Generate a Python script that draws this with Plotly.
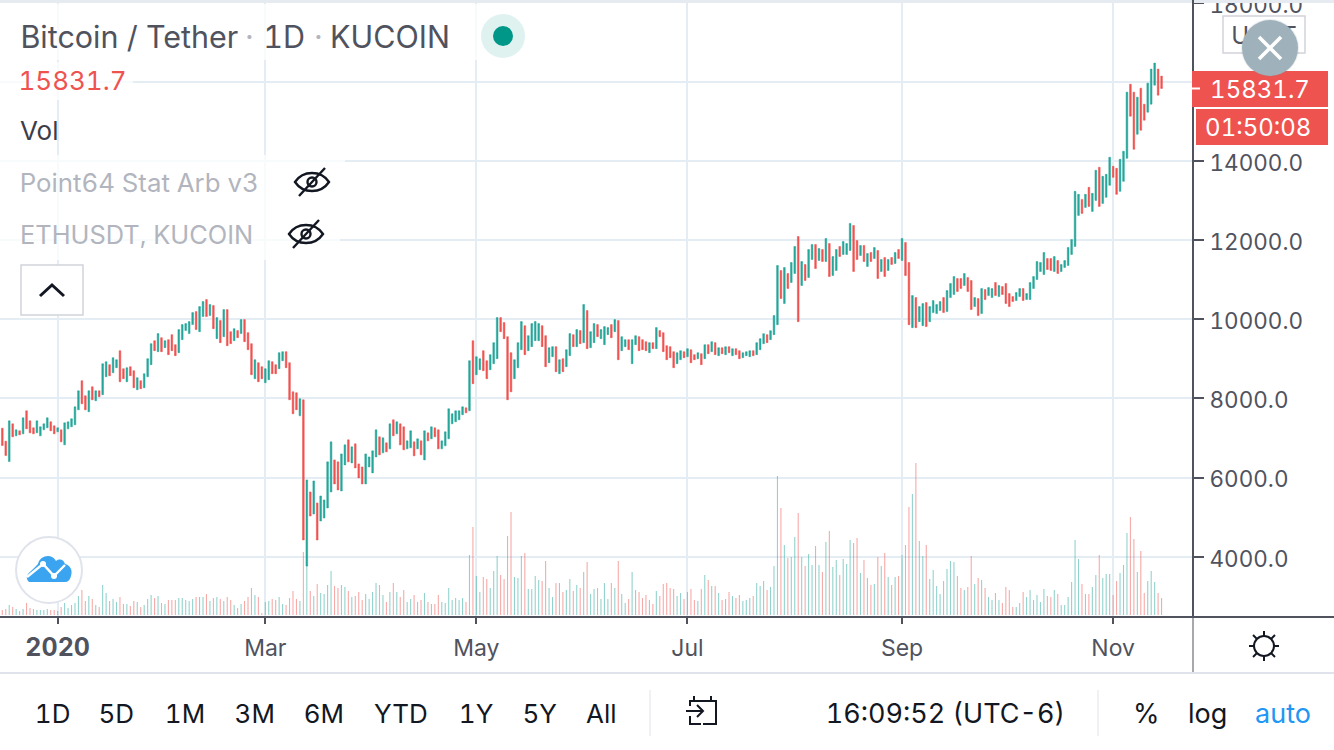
import pandas as pd
import plotly.graph_objects as go

W, H = 1334, 750

# daily bars, R = down day, G = up day
direction = (
    "RRGRGRGRRR" "GGGGRRGRGG" "GGGRRGRGRG" "GRGGRRGRRG" "RGGGRGRGRR"
    "RGGGGGRGGR" "GRGRGRRGRG" "RRRGRRGGRR" "GGRRRRGRGR" "GRGGGGRR"
    "GGRGRRRGGG" "GRGRGRGRRG" "GRGRGRGRRG" "GGGGGGRGRG" "GRRGGGRRRR"
    "GGGRGGGGRR" "GGRGRGGRGR" "GRGGRGGGRG" "RGGRGGRRRG" "RGRRRR"
    "RGGRGRRGRG" "RGRGRGRGRR" "GGGRGGGRGG" "GRGRGGRGRG" "GRGRGRGGRG"
    "GGRRGRGRGR" "GRGRGRGRRG" "RGGRGGGGRG" "GGRRGRRGRGRG"
    "GRGRRRRGGR" "GGGGGGRRGR" "GGGGGGRGRG" "GRGGGRRGGG" "RRGRRGGGRR"
)
bar_high = [
    7248, 6919, 7434, 7358, 7206, 7181, 7510, 7687, 7434, 7257,
    7434, 7282, 7358, 7510, 7409, 7307, 7257, 7206, 7383, 7409,
    7485, 7788, 8193, 8447, 8067, 8193, 8295, 8193, 8193, 8877,
    8928, 8852, 9029, 8978, 9206, 8751, 8776, 8801, 8700, 8523,
    8447, 8624, 9004, 9384, 9459, 9637, 9535, 9459, 9485, 9611,
    9358, 9738, 9865, 9890, 9941, 10168, 10194, 10320, 10447, 10498,
    10371, 10346, 10042, 9966, 10244, 10244, 9687, 9763, 9713, 9991,
    9991, 9662, 9384, 8978, 8902, 8801, 8751, 8953, 8928, 8852,
    9156, 9181, 9181, 8902, 8168, 8143, 7991, 7966, 5940, 5636,
    5915, 5358, 5535, 5434, 6396, 6902, 6446, 6396,
    6598, 6826, 6953, 6776, 6852, 6345, 6269, 6598, 6522, 6674,
    7206, 7029, 7003, 6877, 7358, 7459, 7409, 7358, 7282, 6927,
    7181, 6902, 6978, 6927, 7181, 7130, 7282, 7257, 7206, 6927,
    7155, 7738, 7611, 7687, 7687, 7788, 7763, 8953, 9459, 9054,
    9004, 9206, 8953, 9105, 9409, 10042, 10042, 9915, 9561, 9156,
    8978, 9409, 9941, 9839, 9586, 9890, 9941, 9890, 9839, 9586,
    9282, 9308, 9308, 8978, 9004, 9232, 9637, 9611, 9738, 9713,
    10371, 10219, 9687, 9890, 9865, 9738, 9814, 9789, 9865, 9991,
    9966, 9561, 9485, 9485, 9485, 9586, 9561, 9485, 9434, 9409,
    9409, 9789, 9713, 9662, 9333, 9308,
    9181, 9155, 9206, 9181, 9257, 9231, 9105, 9155, 9130, 9358,
    9358, 9434, 9409, 9282, 9282, 9307, 9307, 9257, 9257, 9206,
    9155, 9181, 9206, 9206, 9409, 9510, 9636, 9611, 9712, 10092,
    11358, 11232, 11308, 11156, 11434, 11839, 12092, 11459, 11384, 11763,
    11890, 11890, 11789, 11763, 12042, 11915, 11586, 11763, 11839, 11966,
    11915, 12422, 12371, 11991, 11865, 11865, 11662, 11687, 11814, 11738,
    11510, 11561, 11510, 11561, 11687, 11763, 12042, 11941, 11434, 10599,
    10548, 10320, 10396, 10421, 10320, 10472, 10371, 10447, 10548, 10725,
    10902, 11080, 11029, 11029, 11156, 11054, 10978, 10548, 10523, 10776, 10751, 10801,
    10776, 10928, 10852, 10826, 10902, 10649, 10573, 10675, 10776, 10776,
    10649, 10928, 11080, 11459, 11434, 11687, 11535, 11535, 11586, 11485,
    11384, 11485, 11814, 12017, 13232, 13156, 13029, 13156, 13333, 13181,
    13764, 13840, 13612, 13662, 14093, 13865, 13814, 14042, 14245, 15739,
    15941, 15739, 15612, 15840, 15435, 15966, 16321, 16473, 16321, 16144,
]
bar_low = [
    6809, 6556, 6404, 7029, 7054, 7079, 7105, 7231, 7130, 7105,
    7130, 7054, 7206, 7257, 7181, 7105, 7155, 6902, 6826, 7231,
    7282, 7333, 7712, 7864, 7712, 7662, 7966, 7940, 8042, 8092,
    8548, 8573, 8649, 8776, 8421, 8497, 8421, 8573, 8269, 8219,
    8244, 8269, 8548, 8852, 9206, 9181, 9181, 9282, 9105, 9206,
    9080, 9156, 9485, 9713, 9637, 9865, 9738, 9687, 10067, 10067,
    10092, 9763, 9510, 9409, 9561, 9333, 9384, 9459, 9535, 9637,
    9434, 9232, 8599, 8497, 8421, 8497, 8396, 8472, 8624, 8624,
    8751, 8953, 8776, 7966, 7611, 7712, 7560, 4421, 3762, 5028,
    5079, 4421, 4902, 4978, 5231, 5636, 5839, 5687,
    5661, 6320, 6396, 6370, 6244, 5991, 5839, 5839, 6269, 6117,
    6522, 6573, 6624, 6649, 6725, 7054, 7105, 6826, 6700, 6725,
    6750, 6548, 6725, 6573, 6446, 6927, 6978, 7029, 6725, 6725,
    6801, 6978, 7358, 7409, 7459, 7586, 7636, 7687, 8371, 8599,
    8725, 8700, 8497, 8725, 8877, 9004, 9687, 9510, 7966, 8168,
    8497, 8776, 9232, 9105, 9206, 9308, 9459, 9459, 9308, 8801,
    8902, 9054, 8675, 8624, 8675, 8801, 9080, 9308, 9308, 9384,
    9409, 9257, 9282, 9409, 9561, 9510, 9358, 9611, 9535, 9687,
    8978, 9206, 9308, 9232, 8877, 9358, 9206, 9232, 9206, 9156,
    9257, 9257, 9561, 9181, 8978, 9029,
    8776, 8877, 8978, 9029, 9054, 8902, 8978, 9003, 8852, 9003,
    9130, 9181, 9105, 9079, 9130, 9105, 9155, 9079, 9105, 9003,
    9029, 9079, 9054, 9079, 9105, 9231, 9383, 9409, 9485, 9611,
    9864, 10523, 10396, 10776, 10928, 11156, 9940, 10852, 10978, 11054,
    11510, 11282, 11485, 11459, 11459, 11080, 11105, 11232, 11586, 11637,
    11637, 11738, 11206, 11510, 11611, 11459, 11333, 11459, 11535, 11029,
    11206, 11080, 11232, 11384, 11409, 11535, 11485, 11105, 9864, 9788,
    9788, 9940, 9839, 9814, 9940, 10168, 10143, 10219, 10168, 10193,
    10548, 10624, 10700, 10776, 10852, 10700, 10244, 10320, 10092, 10143, 10497, 10599,
    10548, 10599, 10573, 10624, 10396, 10320, 10447, 10472, 10573, 10472,
    10497, 10497, 10776, 11004, 11206, 11130, 11257, 11232, 11206, 11156,
    11206, 11308, 11358, 11637, 11839, 12624, 12675, 12827, 12852, 12725,
    13004, 12852, 12928, 13080, 13384, 13586, 13156, 13232, 13485, 14067,
    15131, 14295, 14675, 14776, 15030, 15232, 15435, 15916, 15663, 15831.7,
]
# no volume scale on the chart, so these are relative heights
volume = [
    15, 18, 30, 24, 18, 12, 18, 36, 21, 18, 15, 15, 15, 18, 15, 15, 12, 24, 36, 21,
    30, 36, 57, 75, 42, 57, 48, 30, 24, 90, 66, 42, 48, 39, 54, 33, 33, 27, 42, 39,
    24, 30, 48, 60, 51, 57, 36, 33, 45, 45, 45, 51, 51, 45, 42, 48, 54, 54, 54, 63,
    42, 51, 54, 48, 42, 54, 45, 30, 21, 33, 42, 54, 81, 60, 54, 6, 39, 42, 48, 45,
    54, 33, 30, 51, 72, 48, 42, 189, 150, 72, 57, 93, 66, 63, 90, 132, 87, 81,
    90, 84, 72, 54, 57, 69, 45, 63, 48, 69, 96, 90, 60, 39, 69, 96, 69, 54, 75, 39,
    48, 60, 39, 45, 66, 39, 33, 33, 60, 39, 36, 81, 45, 51, 45, 51, 39, 180, 264, 117,
    69, 114, 108, 81, 132, 177, 120, 108, 237, 309, 114, 111, 177, 186, 78, 78, 117, 105, 102, 162,
    81, 54, 96, 96, 69, 75, 108, 72, 90, 81, 129, 159, 63, 78, 81, 48, 96, 48, 96, 81,
    162, 63, 36, 48, 129, 75, 69, 51, 60, 45, 33, 72, 57, 93, 96, 81,
    78, 57, 66, 48, 69, 78, 45, 42, 78, 120, 105, 87, 87, 66, 45, 48, 69, 57, 51, 60,
    42, 45, 51, 57, 96, 87, 102, 75, 84, 147, 417, 321, 210, 171, 174, 234, 306, 174, 147, 183,
    150, 207, 150, 129, 219, 252, 144, 165, 120, 168, 153, 225, 216, 231, 126, 165, 111, 90, 93, 174,
    147, 186, 114, 90, 114, 117, 180, 210, 324, 363, 456, 222, 177, 210, 108, 135, 87, 63, 102, 138,
    162, 159, 117, 81, 75, 84, 177, 93, 111, 105, 81, 54,
    45, 66, 45, 36, 84, 75, 24, 24, 36, 69, 54, 75, 45, 60, 39, 78, 57, 54, 75, 63,
    30, 30, 54, 99, 225, 168, 93, 63, 63, 84, 120, 180, 111, 123, 123, 60, 102, 126, 150, 246,
    294, 228, 129, 192, 66, 102, 132, 99, 66, 51,
]
price_ticks = [4000, 6000, 8000, 10000, 12000, 14000, 16000, 18000]
# the 16000 label sits behind the last price tag, so it gets no text
price_labels = ["4000.0", "6000.0", "8000.0", "10000.0", "12000.0", "14000.0", "", "18000.0"]
month_ticks = ["2020-01-01", "2020-03-01", "2020-05-01", "2020-07-01", "2020-09-01", "2020-11-01"]
month_labels = ['<span style="font-size:25px"><b>2020</b></span>', "Mar", "May", "Jul", "Sep", "Nov"]
range_buttons = ["1D", "5D", "1M", "3M", "6M", "YTD", "1Y", "5Y", "All"]
range_button_x = [52, 116, 185, 255, 324, 401, 476, 539, 601]

GREEN = "#26a69a"
RED = "#ef5350"
TEXT = "#50535e"
DARK = "#131722"
FAINT = "#b2b5be"
GRID = "#e4edf4"
FONT = "Inter"

assert len(direction) == len(bar_high) == len(bar_low) == len(volume)

dates = pd.date_range("2019-12-16", periods=len(bar_high), freq="D")
bar_open = [l if d == "G" else h for d, h, l in zip(direction, bar_high, bar_low)]
bar_close = [h if d == "G" else l for d, h, l in zip(direction, bar_high, bar_low)]
volume_colors = ["rgba(38,166,154,0.5)" if d == "G" else "rgba(239,83,80,0.5)" for d in direction]


def px(x):
    return x / W


def py(y):
    return 1 - y / H


def box(x0, y0, x1, y1, **kw):
    kw.setdefault("line_width", 0)
    return dict(type="rect", xref="paper", yref="paper", x0=px(x0), x1=px(x1), y0=py(y0), y1=py(y1), **kw)


def seg(x0, y0, x1, y1, color, width):
    return dict(type="line", xref="paper", yref="paper", x0=px(x0), x1=px(x1), y0=py(y0), y1=py(y1),
                line=dict(color=color, width=width))


def dot(x, y, r, **kw):
    kw.setdefault("line_width", 0)
    return dict(type="circle", xref="paper", yref="paper", x0=px(x - r), x1=px(x + r), y0=py(y - r), y1=py(y + r), **kw)


def curve(d, **kw):
    # d is an svg path in page pixels
    out = []
    is_x = True
    for tok in d.split():
        if tok.isalpha():
            out.append(tok)
            is_x = True
        else:
            out.append(str(px(float(tok))) if is_x else str(py(float(tok))))
            is_x = not is_x
    kw.setdefault("line_width", 0)
    return dict(type="path", xref="paper", yref="paper", path=" ".join(out), **kw)


def label(text, x, y, size=26, color=TEXT, anchor="left"):
    # annotations sit about 3px right of their anchor
    if anchor == "left":
        x -= 3
    return dict(text=text, xref="paper", yref="paper", x=px(x), y=py(y), xanchor=anchor, yanchor="middle",
                showarrow=False, font=dict(family=FONT, size=size, color=color))


def eye(x, y):
    line = dict(line_color=DARK, line_width=2.4)
    return [
        curve(f"M {x - 17} {y} C {x - 9} {y - 12} {x + 9} {y - 12} {x + 17} {y} C {x + 9} {y + 12} {x - 9} {y + 12} {x - 17} {y} Z", **line),
        dot(x, y, 4.5, **line),
        seg(x - 13, y + 14, x + 13, y - 14, DARK, 2.4),
    ]


fig = go.Figure()
fig.add_trace(go.Candlestick(
    x=dates, open=bar_open, high=bar_high, low=bar_low, close=bar_close,
    increasing=dict(line=dict(color=GREEN, width=0.5), fillcolor=GREEN),
    decreasing=dict(line=dict(color=RED, width=0.5), fillcolor=RED),
    hoverinfo="skip", showlegend=False,
))
fig.add_trace(go.Bar(
    x=dates, y=volume, yaxis="y2", width=27000000,
    marker=dict(color=volume_colors, line_width=0),
    hoverinfo="skip", showlegend=False,
))

shapes = [
    # faded panel behind the legend
    box(0, 4, 530, 60, fillcolor="rgba(255,255,255,0.75)"),
    box(0, 62, 133, 100, fillcolor="rgba(255,255,255,0.75)"),
    box(0, 155, 345, 208, fillcolor="rgba(255,255,255,0.75)"),
    box(0, 208, 340, 260, fillcolor="rgba(255,255,255,0.75)"),
    # frame
    box(0, 0, W, 3, fillcolor="#e6ebf1"),
    seg(0, 617, W, 617, TEXT, 2),
    seg(1193, 0, 1193, 617, TEXT, 2),
    seg(1193, 617, 1193, 672, TEXT, 1),
    box(0, 672, W, 674, fillcolor="#e0e3eb"),
    seg(650, 690, 650, 736, "#e0e3eb", 1),
    seg(1098, 690, 1098, 736, "#e0e3eb", 1),
    # status dot
    dot(503, 36, 22, fillcolor="#e0f2f0"),
    dot(503, 36, 10, fillcolor="#009688"),
    # collapse button
    box(21, 265, 83, 315, fillcolor="white", line_color="#d1d4dc", line_width=1.5),
    curve("M 40 296 L 52 285 L 64 296", line_color=DARK, line_width=3),
    # logo
    dot(49, 570, 33, fillcolor="white", line_color="#e0e3eb", line_width=2),
    curve("M 29 582 C 25 578 27 574 31 571 C 34 568 36 566 38 564 C 40 555 52 553 56 561 "
          "C 60 558 64 560 65 564 C 70 565 73 570 71 576 C 70 580 68 582 65 582 Z", fillcolor="#3ba4f0"),
    curve("M 27 577 L 43 564 L 54 576 L 65 565", line_color="white", line_width=2.4),
    dot(43, 564, 3, fillcolor="white"),
    dot(54, 576, 3, fillcolor="white"),
    # last price tags
    box(1192, 71, 1328, 107, fillcolor=RED),
    box(1196, 109, 1328, 145, fillcolor=RED),
    seg(1192, 88.5, 1200, 88.5, "white", 2),
    # currency button with the close button sitting on it
    box(1223, 16, 1305, 53, fillcolor="white", line_color="#d1d4dc", line_width=1.5,
        label=dict(text="USDT", font=dict(family=FONT, size=24, color=TEXT), textposition="middle center")),
    dot(1270, 48, 29, fillcolor="rgba(120,140,150,0.15)"),
    dot(1270, 48, 28, fillcolor="#9fb2bc"),
    seg(1259, 37, 1281, 59, "white", 3.5),
    seg(1259, 59, 1281, 37, "white", 3.5),
    # sun icon
    dot(1264, 646, 10, line_color=DARK, line_width=2),
    seg(1264, 631, 1264, 636, DARK, 2), seg(1264, 656, 1264, 661, DARK, 2),
    seg(1249, 646, 1254, 646, DARK, 2), seg(1274, 646, 1279, 646, DARK, 2),
    seg(1253, 635, 1257, 639, DARK, 2), seg(1271, 653, 1275, 657, DARK, 2),
    seg(1253, 657, 1257, 653, DARK, 2), seg(1271, 639, 1275, 635, DARK, 2),
    # calendar icon
    curve("M 690 706 L 690 701 L 716 701 L 716 724 L 703 724", line_color=DARK, line_width=2),
    seg(694, 696, 694, 701, DARK, 2),
    seg(711, 696, 711, 701, DARK, 2),
    curve("M 686 711 L 703 711 M 697 705 L 703 711 L 697 717", line_color=DARK, line_width=2),
    curve("M 690 716 L 690 724 L 701 724", line_color=DARK, line_width=2),
]
shapes += eye(312, 182) + eye(306, 234)
for s in shapes:
    s.setdefault("layer", "above")

annotations = [
    label("Bitcoin / Tether", 21, 36, 30.5),
    label("·", 249, 36, 30.5, FAINT, "center"),
    label("1D", 268, 36, 30.5),
    label("·", 318, 36, 30.5, FAINT, "center"),
    label("KUCOIN", 331, 36, 30.5),
    # tabular figures widen these about their middle, hence the nudged x
    label("15831.7", 28, 81, 26, RED),
    label("Vol", 21, 130, 26, "#3b3e49"),
    label("Point64 Stat Arb v3", 21, 182, 25.8, FAINT),
    label("ETHUSDT, KUCOIN", 21, 234, 25.4, FAINT),
    label("15831.7", 1260, 89, 24, "white", "center"),
    label("01:50:08", 1258, 127, 24, "white", "center"),
    label("16:09:52 (UTC-6)", 835, 713, 27, DARK),
    label("%", 1146, 713, 27, DARK, "center"),
    label("log", 1207, 713, 27, DARK, "center"),
    label("auto", 1283, 713, 27, "#2196f3", "center"),
]
for name, bx in zip(range_buttons, range_button_x):
    annotations.append(label(name, bx, 713, 26, DARK, "center"))

fig.update_layout(
    width=W, height=H, autosize=False,
    margin=dict(l=0, r=0, t=0, b=0, autoexpand=False),
    paper_bgcolor="white", plot_bgcolor="white",
    showlegend=False,
    font=dict(family=FONT, color=TEXT),
    xaxis=dict(
        domain=[0, 1193 / W], range=["2019-12-15 08:00", "2020-11-24 02:00"], type="date",
        rangeslider=dict(visible=False),
        tickmode="array", tickvals=month_ticks, ticktext=month_labels,
        tickfont=dict(family=FONT, size=23, color=TEXT),
        ticks="outside", ticklen=6, tickwidth=2, tickcolor=TEXT, ticklabelstandoff=4,
        showgrid=True, gridcolor=GRID, gridwidth=2,
        showline=False, zeroline=False,
    ),
    yaxis=dict(
        domain=[py(617), py(2)], range=[2476, 18017], side="right",
        tickmode="array", tickvals=price_ticks, ticktext=price_labels,
        tickfont=dict(family=FONT, size=22.5, color=TEXT),
        ticks="outside", ticklen=10, tickwidth=2, tickcolor=TEXT,
        ticklabelstandoff=1, ticklabelshift=2, ticklabeloverflow="allow",
        showgrid=True, gridcolor=GRID, gridwidth=2,
        showline=False, zeroline=False,
    ),
    yaxis2=dict(
        domain=[py(617), py(2)], range=[-6, 1839], overlaying="y", visible=False, showgrid=False,
    ),
    shapes=shapes,
    annotations=annotations,
)

# body margin off, and the chart's tabular figures
page_css = (
    "document.body.style.margin='0';"
    "var st=document.createElement('style');"
    "st.textContent='svg text{font-feature-settings:\"tnum\";}';"
    "document.head.appendChild(st);"
)
fig.write_html("out.html", post_script=page_css, config=dict(displayModeBar=False))
